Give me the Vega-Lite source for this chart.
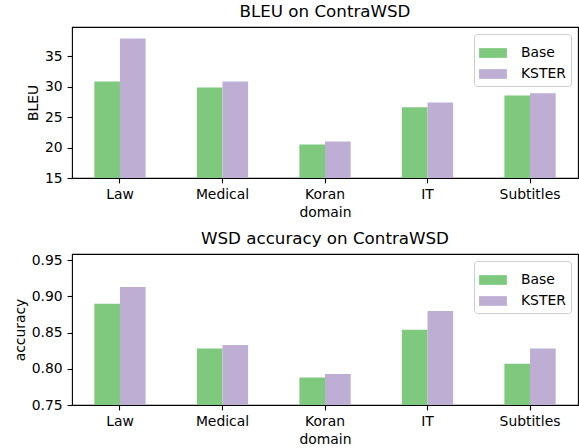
{
  "$schema": "https://vega.github.io/schema/vega-lite/v6.json",
  "padding": {"left": 12, "top": 3, "right": 0, "bottom": 0},
  "background": "white",
  "bounds": "flush",
  "spacing": 76,
  "config": {
    "font": "DejaVu Sans",
    "view": {"stroke": "black", "strokeWidth": 1.1},
    "axis": {
      "domain": false,
      "grid": false,
      "tickColor": "black",
      "tickWidth": 1.1,
      "tickSize": 4.9,
      "labelFont": "DejaVu Sans",
      "labelFontSize": 13.9,
      "labelColor": "black",
      "titleFont": "DejaVu Sans",
      "titleFontSize": 13.9,
      "titleFontWeight": "normal",
      "titleColor": "black"
    },
    "title": {"font": "DejaVu Sans", "fontSize": 16.7, "fontWeight": "normal", "color": "black", "frame": "group", "anchor": "middle", "baseline": "alphabetic", "offset": 6},
    "legend": {
      "orient": "top-right",
      "offset": 7,
      "title": null,
      "labelFont": "DejaVu Sans",
      "labelFontSize": 13.9,
      "labelColor": "black",
      "symbolType": "M-1,-0.35h2v0.7h-2z",
      "symbolSize": 773,
      "symbolStrokeWidth": 0,
      "symbolOpacity": 1,
      "labelOffset": 14,
      "rowPadding": -9,
      "padding": 5,
      "strokeColor": "#cccccc",
      "fillColor": "rgba(255,255,255,0.8)",
      "cornerRadius": 3
    }
  },
  "datasets": {
    "scores": [
      {"metric": "BLEU", "domain": "Law", "model": "Base", "value": 30.85},
      {"metric": "BLEU", "domain": "Law", "model": "KSTER", "value": 37.9},
      {"metric": "BLEU", "domain": "Medical", "model": "Base", "value": 29.87},
      {"metric": "BLEU", "domain": "Medical", "model": "KSTER", "value": 30.85},
      {"metric": "BLEU", "domain": "Koran", "model": "Base", "value": 20.5},
      {"metric": "BLEU", "domain": "Koran", "model": "KSTER", "value": 21.0},
      {"metric": "BLEU", "domain": "IT", "model": "Base", "value": 26.6},
      {"metric": "BLEU", "domain": "IT", "model": "KSTER", "value": 27.4},
      {"metric": "BLEU", "domain": "Subtitles", "model": "Base", "value": 28.55},
      {"metric": "BLEU", "domain": "Subtitles", "model": "KSTER", "value": 28.9},
      {"metric": "accuracy", "domain": "Law", "model": "Base", "value": 0.89},
      {"metric": "accuracy", "domain": "Law", "model": "KSTER", "value": 0.913},
      {"metric": "accuracy", "domain": "Medical", "model": "Base", "value": 0.828},
      {"metric": "accuracy", "domain": "Medical", "model": "KSTER", "value": 0.833},
      {"metric": "accuracy", "domain": "Koran", "model": "Base", "value": 0.788},
      {"metric": "accuracy", "domain": "Koran", "model": "KSTER", "value": 0.793},
      {"metric": "accuracy", "domain": "IT", "model": "Base", "value": 0.854},
      {"metric": "accuracy", "domain": "IT", "model": "KSTER", "value": 0.88},
      {"metric": "accuracy", "domain": "Subtitles", "model": "Base", "value": 0.807},
      {"metric": "accuracy", "domain": "Subtitles", "model": "KSTER", "value": 0.828}
    ]
  },
  "data": {"name": "scores"},
  "vconcat": [
    {
      "title": "BLEU on ContraWSD",
      "width": 506,
      "height": 151,
      "transform": [{"filter": "datum.metric === 'BLEU'"}],
      "mark": {"type": "bar", "clip": true},
      "encoding": {
        "x": {"field": "domain", "type": "nominal", "sort": ["Law", "Medical", "Koran", "IT", "Subtitles"],
              "scale": {"paddingInner": 0.5, "paddingOuter": 0.218},
              "axis": {"labelAngle": 0, "labelPadding": 5, "titlePadding": 4, "title": "domain"}},
        "xOffset": {"field": "model", "type": "nominal", "scale": {"paddingInner": 0, "paddingOuter": 0}},
        "y": {"field": "value", "type": "quantitative",
              "scale": {"domain": [15, 39.8], "nice": false, "zero": false},
              "axis": {"values": [15, 20, 25, 30, 35], "title": "BLEU", "labelPadding": 4.9, "titlePadding": 4}},
        "color": {"field": "model", "type": "nominal",
                  "scale": {"domain": ["Base", "KSTER"], "range": ["#7fc97f", "#beaed4"]}}
      }
    },
    {
      "title": "WSD accuracy on ContraWSD",
      "width": 506,
      "height": 151,
      "transform": [{"filter": "datum.metric === 'accuracy'"}],
      "mark": {"type": "bar", "clip": true},
      "encoding": {
        "x": {"field": "domain", "type": "nominal", "sort": ["Law", "Medical", "Koran", "IT", "Subtitles"],
              "scale": {"paddingInner": 0.5, "paddingOuter": 0.218},
              "axis": {"labelAngle": 0, "labelPadding": 5, "titlePadding": 4, "title": "domain"}},
        "xOffset": {"field": "model", "type": "nominal", "scale": {"paddingInner": 0, "paddingOuter": 0}},
        "y": {"field": "value", "type": "quantitative",
              "scale": {"domain": [0.75, 0.9587], "nice": false, "zero": false},
              "axis": {"values": [0.75, 0.8, 0.85, 0.9, 0.95], "format": ".2f", "title": "accuracy", "labelPadding": 4.9, "titlePadding": 4}},
        "color": {"field": "model", "type": "nominal",
                  "scale": {"domain": ["Base", "KSTER"], "range": ["#7fc97f", "#beaed4"]}}
      }
    }
  ],
  "resolve": {"scale": {"y": "independent", "x": "independent", "xOffset": "independent"}, "legend": {"color": "independent"}}
}
